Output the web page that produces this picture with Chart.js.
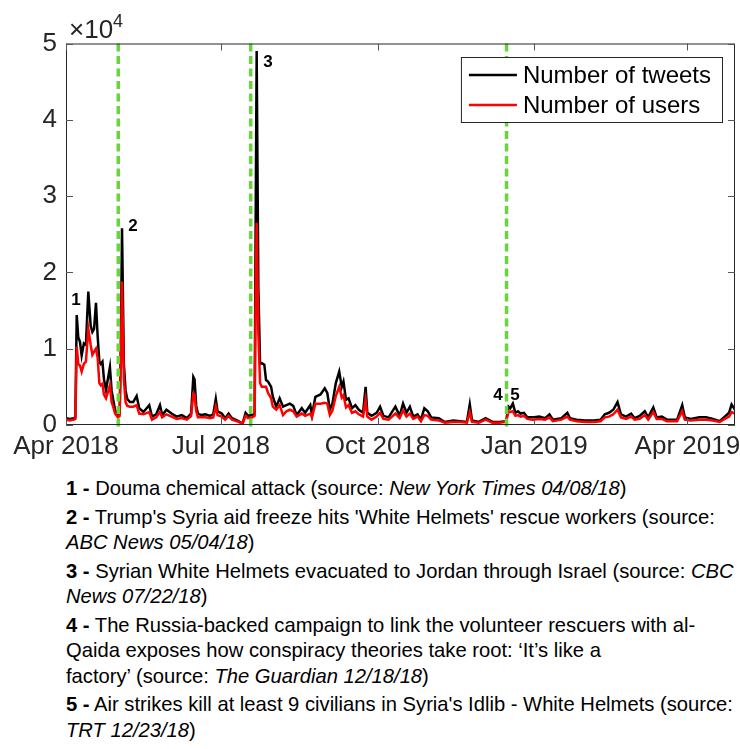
<!DOCTYPE html>
<html>
<head>
<meta charset="utf-8">
<script src="https://cdn.jsdelivr.net/npm/chart.js@4"></script>
<style>
body { margin: 0; background: #fff; width: 740px; height: 749px; overflow: hidden; font-family: "Liberation Sans", Arial, sans-serif; }
#wrap { position: absolute; left: 0; top: 0; width: 740px; height: 465px; }
#notes { position: absolute; left: 66px; top: 476px; font-size: 20.2px; line-height: 25.5px; color: #000; white-space: nowrap; }
#notes p { margin: 0 0 3px 0; }
</style>
</head>
<body>
<div id="wrap"><canvas id="chart"></canvas></div>
<div id="notes">
<p><b>1 -</b> Douma chemical attack (source: <i>New York Times 04/08/18</i>)</p>
<p><b>2 -</b> Trump's Syria aid freeze hits 'White Helmets' rescue workers (source:<br><i>ABC News 05/04/18</i>)</p>
<p><b>3 -</b> Syrian White Helmets evacuated to Jordan through Israel (source: <i>CBC<br>News 07/22/18</i>)</p>
<p><b>4 -</b> The Russia-backed campaign to link the volunteer rescuers with al-<br>Qaida exposes how conspiracy theories take root: ‘It’s like a<br>factory’ (source: <i>The Guardian 12/18/18</i>)</p>
<p><b>5 -</b> Air strikes kill at least 9 civilians in Syria's Idlib - White Helmets (source:<br><i>TRT 12/23/18</i>)</p>
</div>
<script>
// days since 1 Apr 2018
const days = [0, 2.3, 4.7, 5.5, 6.3, 7.2, 8.2, 9.2, 10.5, 11.7, 13.1, 14.5, 15.5, 16.5, 17.6, 18.6, 19.6, 20.4, 21.4, 22.3,
  23.5, 25.8, 26.8, 27.6, 28.8, 30.5, 31.5, 32.3, 32.9, 34, 35, 36, 37.5, 39.5, 41.5, 43, 45.5, 48.9, 50.5, 53,
  55.2, 56.5, 59, 62, 65, 68, 71, 73.5, 74.8, 75.5, 76.5, 77.5, 79.5, 82, 84.5, 86.5, 88, 89, 91.5, 93.5,
  95.5, 97.5, 100.5, 103.7, 105.5, 107, 109.5, 110.8, 111.5, 112, 113, 114, 115, 116.5, 117.5, 118.7, 120.5, 121.5, 123.5, 125.5,
  127.5, 129.5, 131.5, 133.5, 135.5, 138.5, 140.5, 143.5, 144.5, 146.5, 149.5, 152, 153.5, 155, 156.5, 158.5, 160.5, 162, 163, 164.5,
  166, 168, 170, 172, 174.5, 176, 177, 179.5, 182.5, 184.5, 186.5, 189.5, 193.5, 196, 198, 200, 202, 204, 206.5, 208.5,
  210.5, 212.5, 214.5, 219, 222.5, 227.5, 231.5, 235.5, 237.2, 238.5, 242.5, 246.5, 250.5, 254.5, 258.5, 260, 261, 262.5, 264, 265.5,
  267, 269, 271, 274, 278, 281.5, 284, 286, 291, 294.5, 296, 300, 305, 310, 314, 316.5, 319, 321.5, 324, 326,
  329, 332, 334, 337, 340, 342, 345, 347, 350, 353, 359, 362, 363.5, 367, 372, 376, 380, 384, 387, 389.5, 391, 393];
const tweets = [900, 800, 900, 1000, 14400, 11500, 10900, 9100, 10700, 10500, 17500, 13000, 12200, 12600, 16000, 11600, 8300, 8000, 8300, 6000,
  4600, 7600, 4500, 3500, 2000, 1300, 1500, 12000, 25800, 8000, 4500, 3400, 3000, 3000, 3800, 2200, 1700, 2600, 1100, 1400,
  2600, 1300, 2000, 1500, 1100, 1300, 900, 1500, 6300, 6000, 2500, 1500, 1300, 1400, 1200, 1400, 3400, 1800, 1500, 900,
  1500, 900, 600, 200, 1600, 1200, 1300, 1500, 30000, 49000, 18000, 8000, 8100, 7900, 5900, 5700, 5000, 3700, 2400, 3500,
  2400, 2600, 2800, 2500, 1300, 2200, 1600, 2600, 1300, 3700, 4000, 4800, 4200, 2000, 2800, 5500, 7000, 5000, 5700, 3300,
  3500, 2200, 2600, 2000, 1600, 5000, 1600, 1200, 1600, 2400, 1200, 1000, 2400, 1200, 2800, 1600, 2400, 1100, 1400, 700,
  2200, 1800, 1000, 900, 400, 600, 500, 400, 2700, 600, 400, 900, 400, 400, 500, 2400, 2200, 2800, 1600, 1800,
  1500, 1600, 1000, 1000, 1100, 900, 1400, 700, 900, 1600, 900, 700, 600, 600, 700, 1400, 1600, 2000, 3000, 1400,
  1100, 1500, 900, 1200, 1800, 1000, 2300, 1000, 1100, 700, 700, 2600, 1000, 800, 1000, 1000, 800, 500, 1100, 1600, 2700, 2000];
const users = [700, 600, 700, 800, 10300, 8000, 7800, 7000, 8000, 8300, 12600, 10500, 9200, 9600, 10000, 8800, 5500, 5200, 5400, 4000,
  3500, 5200, 3000, 2500, 1500, 1000, 1200, 9000, 18800, 6000, 3000, 2500, 2400, 2400, 2600, 1500, 1400, 1700, 700, 1000,
  1700, 1000, 1400, 1100, 800, 900, 700, 1200, 4100, 4000, 1800, 1000, 1000, 1000, 900, 1000, 2400, 1300, 1100, 700,
  1200, 700, 500, 150, 1200, 900, 1000, 1200, 18000, 26500, 12000, 5500, 5000, 5000, 5000, 4200, 3500, 2400, 2000, 2600,
  1300, 1800, 2000, 1800, 1100, 1500, 1200, 1500, 1000, 2800, 2800, 2900, 2800, 1300, 1900, 3800, 5000, 3600, 3900, 2300,
  2600, 1600, 1800, 1400, 1100, 3300, 1100, 700, 1100, 1600, 800, 700, 1500, 900, 1900, 1100, 1500, 800, 1100, 500,
  1300, 1200, 700, 600, 300, 400, 400, 300, 1700, 400, 300, 700, 300, 300, 400, 1800, 1700, 1800, 1200, 1300,
  1100, 1200, 800, 700, 800, 700, 1000, 500, 700, 1100, 700, 500, 400, 400, 500, 1000, 1100, 1400, 2000, 1000,
  800, 1100, 700, 800, 1300, 700, 1700, 800, 800, 500, 500, 1800, 700, 600, 700, 700, 600, 400, 800, 1100, 1700, 1500];

const tickDays = [0, 91, 183, 275, 365];
const tickLabels = ['Apr 2018', 'Jul 2018', 'Oct 2018', 'Jan 2019', 'Apr 2019'];
const eventLineDays = [30.7, 108.5, 258.8];
const markLabels = ['1', '2', '3', '4', '5'];
const markDays = [5.9, 39.3, 118.6, 253.7, 263.7];
const markValues = [16400, 26000, 47500, 3900, 3900];

const axisColor = '#262626';
const FONT = '"Liberation Sans", Arial, sans-serif';

const decor = {
  id: 'decor',
  afterDatasetsDraw(chart) {
    const { ctx, chartArea: a, scales: { x, y } } = chart;
    ctx.save();
    // green event lines
    ctx.strokeStyle = '#66d63c';
    ctx.lineWidth = 3.5;
    ctx.setLineDash([8, 4.5]);
    eventLineDays.forEach(d => {
      const px = x.getPixelForValue(d);
      ctx.beginPath();
      ctx.moveTo(px, a.top);
      ctx.lineTo(px, a.bottom + 6);
      ctx.stroke();
    });
    ctx.setLineDash([]);

    // box and inward ticks
    ctx.strokeStyle = axisColor;
    ctx.lineWidth = 1;
    ctx.strokeRect(a.left + 0.5, a.top + 0.5, a.right - a.left - 1, a.bottom - a.top - 1);
    ctx.strokeStyle = '#555';
    ctx.beginPath();
    tickDays.forEach(d => {
      const px = Math.round(x.getPixelForValue(d)) + 0.5;
      ctx.moveTo(px, a.bottom); ctx.lineTo(px, a.bottom - 7);
      ctx.moveTo(px, a.top); ctx.lineTo(px, a.top + 7);
    });
    y.ticks.forEach(t => {
      const py = Math.round(y.getPixelForValue(t.value)) + 0.5;
      ctx.moveTo(a.left, py); ctx.lineTo(a.left + 7, py);
      ctx.moveTo(a.right, py); ctx.lineTo(a.right - 7, py);
    });
    ctx.stroke();

    // event numbers
    ctx.fillStyle = '#000';
    ctx.font = 'bold 17px ' + FONT;
    ctx.textAlign = 'center';
    ctx.textBaseline = 'middle';
    markLabels.forEach((m, i) => {
      ctx.fillText(m, x.getPixelForValue(markDays[i]), y.getPixelForValue(markValues[i]));
    });

    // x10^4 exponent
    ctx.fillStyle = axisColor;
    ctx.textAlign = 'left';
    ctx.textBaseline = 'alphabetic';
    ctx.font = '26px ' + FONT;
    ctx.fillText('\u00d710', a.left + 3, a.top - 6);
    const w = ctx.measureText('\u00d710').width;
    ctx.font = '18px ' + FONT;
    ctx.fillText('4', a.left + 3 + w, a.top - 17);

    // legend
    ctx.font = '24px ' + FONT;
    const sets = chart.data.datasets;
    const tw = Math.max(...sets.map(s => ctx.measureText(s.label).width));
    const bw = 8 + 48 + 6 + tw + 11;
    const bx = a.right - 13 - bw, by = a.top + 13.5, bh = 65;
    ctx.fillStyle = '#fff';
    ctx.fillRect(bx, by, bw, bh);
    ctx.strokeStyle = axisColor;
    ctx.strokeRect(bx + 0.5, by + 0.5, bw, bh);
    sets.forEach((s, i) => {
      const cy = by + 18 + i * 30;
      ctx.strokeStyle = s.borderColor;
      ctx.lineWidth = 2.5;
      ctx.beginPath();
      ctx.moveTo(bx + 8, cy); ctx.lineTo(bx + 56, cy);
      ctx.stroke();
      ctx.fillStyle = '#000';
      ctx.textBaseline = 'middle';
      ctx.fillText(s.label, bx + 62, cy + 1);
    });
    ctx.restore();
  }
};

new Chart(document.getElementById('chart'), {
  type: 'line',
  data: {
    datasets: [{
      label: 'Number of tweets',
      data: days.map((d, i) => ({ x: d, y: tweets[i] })),
      borderColor: '#000000',
      borderWidth: 2.5,
      pointRadius: 0,
      tension: 0,
      order: 1
    }, {
      label: 'Number of users',
      data: days.map((d, i) => ({ x: d, y: users[i] })),
      borderColor: '#ff0000',
      borderWidth: 2.5,
      pointRadius: 0,
      tension: 0,
      order: 0
    }]
  },
  options: {
    responsive: true,
    maintainAspectRatio: false,
    animation: false,
    layout: { padding: { top: 43.5, right: 5, left: 0, bottom: 0 } },
    plugins: { legend: { display: false }, tooltip: { enabled: false } },
    scales: {
      x: {
        type: 'linear',
        min: 0,
        max: 393,
        afterBuildTicks: s => { s.ticks = tickDays.map(v => ({ value: v })); },
        afterFit: s => { s.height = 40; s.paddingLeft = 0; s.paddingRight = 0; },
        grid: { display: false, drawTicks: false },
        border: { display: false },
        ticks: {
          autoSkip: false,
          maxRotation: 0,
          padding: 6,
          color: axisColor,
          font: { family: FONT, size: 26 },
          callback: (v, i) => tickLabels[i]
        }
      },
      y: {
        min: 0,
        max: 50000,
        afterFit: s => { s.width = 66; },
        grid: { display: false, drawTicks: false },
        border: { display: false },
        ticks: {
          stepSize: 10000,
          padding: 9,
          color: axisColor,
          font: { family: FONT, size: 26 },
          callback: v => v / 10000
        }
      }
    }
  },
  plugins: [decor]
});
</script>
</body>
</html>
